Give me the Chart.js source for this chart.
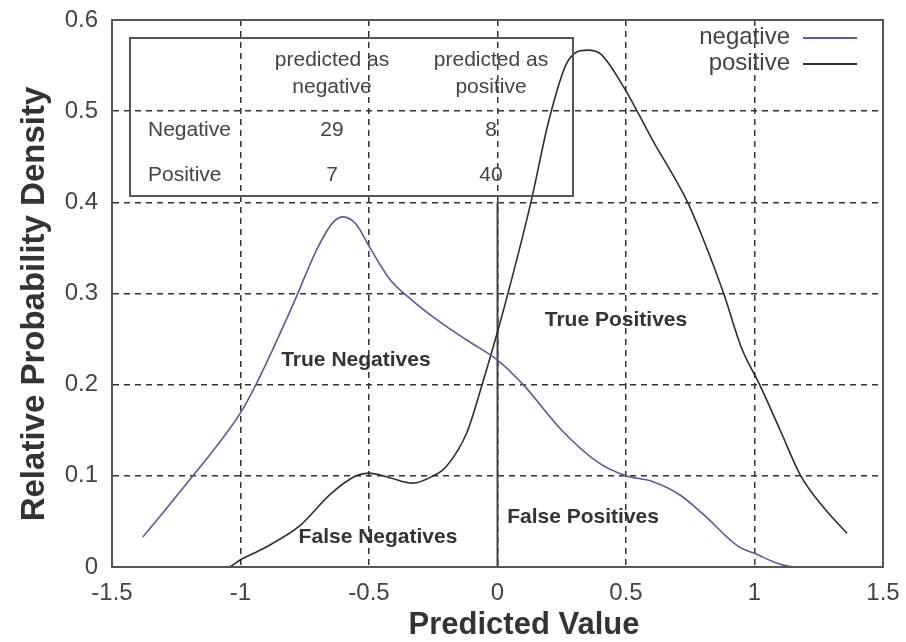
<!DOCTYPE html>
<html>
<head>
<meta charset="utf-8">
<script src="https://cdn.jsdelivr.net/npm/chart.js@4.4.1/dist/chart.umd.min.js"></script>
<style>
  body { margin: 0; background: #fff; }
  #wrap { width: 906px; height: 642px; }
</style>
</head>
<body>
<div id="wrap"><canvas id="chart" width="906" height="642"></canvas></div>
<script>
// density curves
const negativeX = [-1.38, -1.3, -1.2, -1.1, -1.0, -0.94, -0.8, -0.7, -0.64, -0.6, -0.55, -0.5, -0.42, -0.33, -0.22, -0.12, 0, 0.1, 0.25, 0.39, 0.5, 0.6, 0.71, 0.8, 0.94, 1.0, 1.1, 1.17, 1.36];
const negativeY = [0.033, 0.06, 0.095, 0.13, 0.169, 0.2, 0.285, 0.35, 0.378, 0.384, 0.376, 0.352, 0.316, 0.292, 0.268, 0.249, 0.227, 0.2, 0.15, 0.115, 0.1, 0.094, 0.079, 0.058, 0.022, 0.015, 0.003, 0, 0];

const positiveX = [-1.12, -1.05, -1.0, -0.9, -0.77, -0.65, -0.55, -0.5, -0.42, -0.33, -0.25, -0.2, -0.12, -0.06, 0, 0.05, 0.13, 0.2, 0.27, 0.35, 0.4, 0.5, 0.6, 0.74, 0.8, 0.88, 0.95, 1.02, 1.1, 1.18, 1.27, 1.36];
const positiveY = [0, 0, 0.008, 0.022, 0.045, 0.08, 0.1, 0.103, 0.098, 0.092, 0.1, 0.11, 0.147, 0.2, 0.258, 0.31, 0.4, 0.49, 0.553, 0.567, 0.563, 0.522, 0.47, 0.4, 0.36, 0.3, 0.24, 0.2, 0.15, 0.1, 0.065, 0.037];

const seriesNames = ['negative', 'positive'];
const thresholdX = [0, 0];
const thresholdY = [0, 0.4];

// confusion matrix box
const tableHeaders = [['predicted as', 'negative'], ['predicted as', 'positive']];
const tableRows = ['Negative', 'Positive'];
const tableValues = [[29, 8], [7, 40]];

const regionLabels = ['True Negatives', 'True Positives', 'False Negatives', 'False Positives'];

const xTickValues = [-1.5, -1, -0.5, 0, 0.5, 1, 1.5];
const yTickValues = [0, 0.1, 0.2, 0.3, 0.4, 0.5, 0.6];

const COLORS = ['#5b5b93', '#2e2e2e'];

const toPoints = (xs, ys) => xs.map((x, i) => ({ x: x, y: ys[i] }));

const extras = {
  id: 'extras',
  afterDraw(chart) {
    const ctx = chart.ctx;
    const a = chart.chartArea;
    const xs = chart.scales.x, ys = chart.scales.y;
    ctx.save();

    // frame
    ctx.strokeStyle = '#555';
    ctx.lineWidth = 2;
    ctx.strokeRect(a.left, a.top, a.right - a.left, a.bottom - a.top);

    // table
    const tl = a.left + 18, tt = a.top + 18;
    ctx.lineWidth = 2;
    ctx.strokeStyle = '#555';
    ctx.strokeRect(tl, tt, 443, 158);
    ctx.fillStyle = '#444';
    ctx.font = '21px "Liberation Sans", Arial, sans-serif';
    ctx.textBaseline = 'middle';
    ctx.textAlign = 'center';
    const colX = [tl + 202, tl + 361];
    tableHeaders.forEach((h, i) => {
      ctx.fillText(h[0], colX[i], tt + 22);
      ctx.fillText(h[1], colX[i], tt + 49);
    });
    const rowY = [tt + 92, tt + 137];
    tableRows.forEach((r, j) => {
      ctx.textAlign = 'left';
      ctx.fillText(r, tl + 18, rowY[j]);
      ctx.textAlign = 'center';
      tableValues[j].forEach((v, i) => ctx.fillText(String(v), colX[i], rowY[j]));
    });

    // legend
    ctx.font = '24px "Liberation Sans", Arial, sans-serif';
    ctx.textAlign = 'right';
    chart.data.datasets.slice(0, 2).forEach((ds, i) => {
      const y = a.top + 17 + i * 26;
      ctx.fillStyle = '#444';
      ctx.fillText(ds.label, a.right - 93, y);
      ctx.strokeStyle = ds.borderColor;
      ctx.lineWidth = 2;
      ctx.beginPath();
      ctx.moveTo(a.right - 80, y + 1);
      ctx.lineTo(a.right - 26, y + 1);
      ctx.stroke();
    });

    // region labels
    ctx.font = 'bold 21px "Liberation Sans", Arial, sans-serif';
    ctx.fillStyle = '#333';
    ctx.textAlign = 'center';
    const spots = [[-0.551, 0.227], [0.461, 0.271], [-0.465, 0.033], [0.333, 0.055]];
    regionLabels.forEach((t, i) => {
      ctx.fillText(t, xs.getPixelForValue(spots[i][0]), ys.getPixelForValue(spots[i][1]));
    });

    // axis titles
    ctx.font = 'bold 31px "Liberation Sans", Arial, sans-serif';
    ctx.fillStyle = '#333';
    ctx.fillText('Predicted Value', 524, 625);
    ctx.font = 'bold 33px "Liberation Sans", Arial, sans-serif';
    ctx.translate(35, 304);
    ctx.rotate(-Math.PI / 2);
    ctx.fillText('Relative Probability Density', 0, 0);
    ctx.restore();
  }
};

const gridStyle = {
  color: '#333',
  lineWidth: 1.5,
  drawTicks: false
};

const tickFont = { family: '"Liberation Sans", Arial, sans-serif', size: 24 };

new Chart(document.getElementById('chart').getContext('2d'), {
  type: 'scatter',
  data: {
    datasets: [
      {
        label: seriesNames[0],
        data: toPoints(negativeX, negativeY),
        showLine: true,
        borderColor: COLORS[0],
        borderWidth: 1.6,
        pointRadius: 0,
        cubicInterpolationMode: 'monotone'
      },
      {
        label: seriesNames[1],
        data: toPoints(positiveX, positiveY),
        showLine: true,
        borderColor: COLORS[1],
        borderWidth: 1.6,
        pointRadius: 0,
        cubicInterpolationMode: 'monotone'
      },
      {
        label: 'threshold',
        data: toPoints(thresholdX, thresholdY),
        showLine: true,
        borderColor: '#444',
        borderWidth: 2,
        pointRadius: 0
      }
    ]
  },
  options: {
    responsive: false,
    animation: false,
    layout: { padding: { left: 0, top: 20, right: 23, bottom: 0 } },
    plugins: {
      legend: { display: false },
      tooltip: { enabled: false }
    },
    scales: {
      x: {
        type: 'linear',
        min: -1.5,
        max: 1.5,
        afterFit: s => { s.height = 75; s.paddingLeft = 0; s.paddingRight = 0; },
        afterBuildTicks: s => { s.ticks = xTickValues.map(v => ({ value: v })); },
        grid: gridStyle,
        border: { display: true, color: '#555', width: 2, dash: [6, 5] },
        ticks: { color: '#444', padding: 12, font: tickFont, callback: v => String(v) }
      },
      y: {
        type: 'linear',
        min: 0,
        max: 0.6,
        afterFit: s => { s.width = 112; s.paddingTop = 0; s.paddingBottom = 0; },
        afterBuildTicks: s => { s.ticks = yTickValues.map(v => ({ value: v })); },
        grid: gridStyle,
        border: { display: true, color: '#555', width: 2, dash: [6, 5] },
        ticks: { color: '#444', padding: 14, font: tickFont, callback: v => String(v) }
      }
    }
  },
  plugins: [extras]
});
</script>
</body>
</html>
